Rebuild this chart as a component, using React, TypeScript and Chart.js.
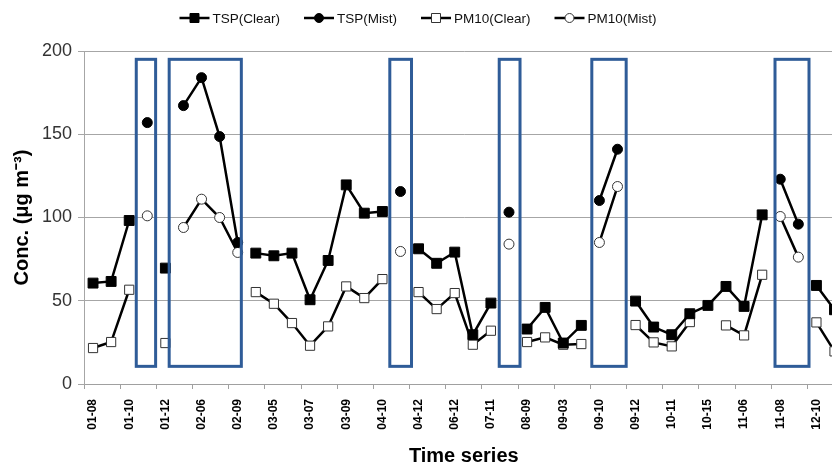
import React, { useEffect, useRef } from 'react';
import { Chart, registerables } from 'chart.js';

Chart.register(...registerables);

// Category labels (every other sampling date is labelled on the axis)
const categories = [
  '01-08', '', '01-10', '', '01-12', '', '02-06', '', '02-09', '',
  '03-05', '', '03-07', '', '03-09', '', '04-10', '', '04-12', '',
  '06-12', '', '07-11', '', '08-09', '', '09-03', '', '09-10', '',
  '09-12', '', '10-11', '', '10-15', '', '11-06', '', '11-08', '',
  '12-10', '',
];

const tspClear = [
  60.6, 61.6, 98.2, null, 69.6, null, null, null, null, 78.6,
  77, 78.6, 50.6, 74.2, 119.6, 102.6, 103.6, null, 81.2, 72.5,
  79.2, 29.6, 48.6, null, 33, 46, 24.6, 35.2, null, null,
  49.8, 34.2, 29.6, 42.2, 47.2, 58.6, 46.6, 101.6, null, null,
  59.2, 44.6,
];

const tspMist = [
  null, null, null, 157, null, 167.2, 184, 148.6, 85, null,
  null, null, null, null, null, null, null, 115.6, null, null,
  null, null, null, 103.2, null, null, null, null, 110.2, 141,
  null, null, null, null, null, null, null, null, 123, 96,
  null, null,
];

const pm10Clear = [
  21.6, 25.2, 56.6, null, 24.6, null, null, null, null, 55.2,
  48.2, 36.6, 23, 34.6, 58.6, 51.6, 63, null, 55.2, 45,
  54.6, 23.6, 32, null, 25.2, 28, 23.6, 24, null, null,
  35.4, 25, 22.6, 37.2, null, 35.2, 29.2, 65.6, null, null,
  37, 19.6,
];

const pm10Mist = [
  null, null, null, 101, null, 94, 111, 100, 79, null,
  null, null, null, null, null, null, null, 79.6, null, null,
  null, null, null, 84, null, null, null, null, 85, 118.6,
  null, null, null, null, null, null, null, null, 100.6, 76.2,
  null, null,
];

const yTicks = [0, 50, 100, 150, 200];

// Mist-episode boxes, in category-index units (x) and concentration units (y)
const boxFrom = [2.39, 4.21, 16.41, 22.46, 27.58, 37.71];
const boxTo = [3.46, 8.2, 17.61, 23.61, 29.48, 39.59];
const boxLow = 10.6;
const boxHigh = 195;

const boxesPlugin = {
  id: 'mistBoxes',
  afterDatasetsDraw(chart: any) {
    const { ctx, scales } = chart;
    const x = scales.x;
    const y = scales.y;
    ctx.save();
    ctx.strokeStyle = '#2F5C98';
    ctx.lineWidth = 3;
    for (let i = 0; i < boxFrom.length; i++) {
      const x0 = x.getPixelForValue(boxFrom[i]);
      const x1 = x.getPixelForValue(boxTo[i]);
      const y0 = y.getPixelForValue(boxHigh);
      const y1 = y.getPixelForValue(boxLow);
      ctx.strokeRect(x0, y0, x1 - x0, y1 - y0);
    }
    ctx.restore();
  },
};

const legendPlugin = {
  id: 'lineMarkerLegend',
  afterDraw(chart: any) {
    const ctx = chart.ctx;
    ctx.save();
    ctx.font = '13.5px "Liberation Sans", Arial, sans-serif';
    ctx.textBaseline = 'middle';
    const lineLen = 30;
    const gapText = 3;
    const gapItem = 24;
    const items = chart.data.datasets.map((ds: any) => ({ ds, w: ctx.measureText(ds.label).width }));
    const total = items.reduce((s: number, it: any) => s + lineLen + gapText + it.w, 0) + gapItem * (items.length - 1);
    let cx = 418 - total / 2;
    const cy = 18;
    items.forEach((it: any) => {
      const ds = it.ds;
      ctx.strokeStyle = '#000';
      ctx.lineWidth = 2.5;
      ctx.beginPath();
      ctx.moveTo(cx, cy);
      ctx.lineTo(cx + lineLen, cy);
      ctx.stroke();
      const mx = cx + lineLen / 2;
      ctx.fillStyle = ds.pointBackgroundColor;
      ctx.strokeStyle = ds.pointBorderColor;
      ctx.lineWidth = 1;
      ctx.beginPath();
      if (ds.pointStyle === 'rect') {
        ctx.rect(mx - 4.5, cy - 4.5, 9, 9);
      } else {
        ctx.arc(mx, cy, 4.5, 0, Math.PI * 2);
      }
      ctx.fill();
      ctx.stroke();
      ctx.fillStyle = '#111';
      ctx.fillText(ds.label, cx + lineLen + gapText, cy + 1);
      cx += lineLen + gapText + it.w + gapItem;
    });
    ctx.restore();
  },
};

export default function App() {
  const ref = useRef<HTMLCanvasElement | null>(null);

  useEffect(() => {
    if (!ref.current) return;
    const chart = new Chart(ref.current, {
      type: 'line',
      data: {
        labels: categories,
        datasets: [
          {
            label: 'TSP(Clear)',
            data: tspClear,
            borderColor: '#000',
            borderWidth: 2.5,
            pointStyle: 'rect',
            pointRadius: 7,
            pointBackgroundColor: '#000',
            pointBorderColor: '#000',
            pointBorderWidth: 1,
            spanGaps: false,
          },
          {
            label: 'TSP(Mist)',
            data: tspMist,
            borderColor: '#000',
            borderWidth: 2.5,
            pointStyle: 'circle',
            pointRadius: 5,
            pointBackgroundColor: '#000',
            pointBorderColor: '#000',
            pointBorderWidth: 1,
            spanGaps: false,
          },
          {
            label: 'PM10(Clear)',
            data: pm10Clear,
            borderColor: '#000',
            borderWidth: 2.5,
            pointStyle: 'rect',
            pointRadius: 6.5,
            pointBackgroundColor: '#fff',
            pointBorderColor: '#333',
            pointBorderWidth: 1,
            spanGaps: false,
          },
          {
            label: 'PM10(Mist)',
            data: pm10Mist,
            borderColor: '#000',
            borderWidth: 2.5,
            pointStyle: 'circle',
            pointRadius: 5,
            pointBackgroundColor: '#fff',
            pointBorderColor: '#333',
            pointBorderWidth: 1,
            spanGaps: false,
          },
        ],
      },
      options: {
        responsive: false,
        maintainAspectRatio: false,
        animation: false,
        layout: { padding: { top: 51, right: 3, bottom: 0, left: 0 } },
        plugins: {
          legend: { display: false },
          tooltip: { enabled: false },
        },
        scales: {
          x: {
            offset: true,
            afterFit: (s: any) => { s.height = 82; },
            grid: {
              offset: true,
              drawOnChartArea: false,
              tickLength: 5,
              color: (c: any) => (c.index % 2 === 0 ? '#A0A0A0' : 'rgba(0,0,0,0)'),
            },
            border: { color: '#A0A0A0', width: 1 },
            ticks: {
              autoSkip: false,
              maxRotation: 90,
              minRotation: 90,
              padding: 10,
              color: '#000',
              font: { family: '"Liberation Sans", Arial, sans-serif', size: 12, weight: 'bold' },
            },
            title: {
              display: true,
              text: 'Time series',
              color: '#000',
              font: { family: '"Liberation Sans", Arial, sans-serif', size: 20, weight: 'bold', lineHeight: 1 },
              padding: { top: 0, bottom: 0 },
            },
          },
          y: {
            min: 0,
            max: 200,
            afterFit: (s: any) => { s.width = 84; },
            afterBuildTicks: (s: any) => { s.ticks = yTicks.map((v) => ({ value: v })); },
            grid: { color: '#A6A6A6', lineWidth: 1, tickLength: 6 },
            border: { color: '#A6A6A6', width: 1 },
            ticks: {
              padding: 6,
              color: '#333',
              font: { family: '"Liberation Sans", Arial, sans-serif', size: 18 },
            },
            title: {
              display: true,
              text: 'Conc. (μg m⁻³)',
              color: '#000',
              font: { family: '"Liberation Sans", Arial, sans-serif', size: 20, weight: 'bold' },
              padding: { top: 10, bottom: 0 },
            },
          },
        },
      },
      plugins: [boxesPlugin, legendPlugin],
    });
    return () => chart.destroy();
  }, []);

  return (
    <div style={{ position: 'fixed', left: 0, top: 0, width: 832, height: 466, overflow: 'hidden', background: '#fff' }}>
      <canvas ref={ref} width={859} height={466} style={{ display: 'block', width: 859, height: 466 }} />
    </div>
  );
}
